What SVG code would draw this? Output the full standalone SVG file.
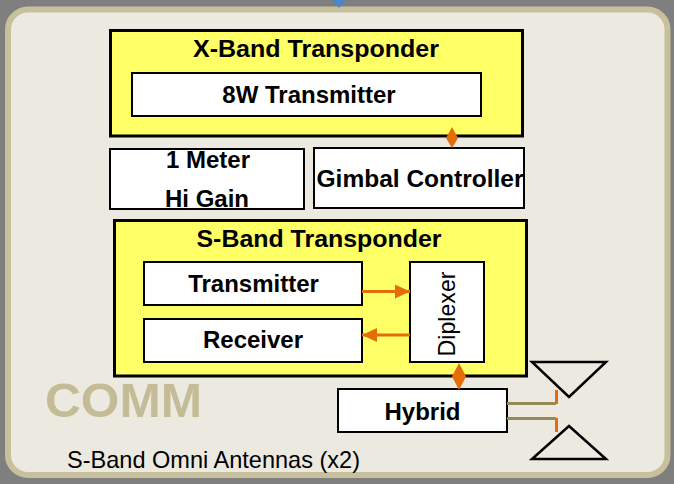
<svg xmlns="http://www.w3.org/2000/svg" width="674" height="484" viewBox="0 0 674 484">
<defs>
<style>
.box{fill:#ffffff;stroke:#000000;stroke-width:2}
.ybox{fill:#ffff66;stroke:#000000;stroke-width:3}
.t{font-family:"Liberation Sans",Arial,sans-serif;font-size:24px;font-weight:bold;fill:#000000;text-anchor:middle}
.r{font-family:"Liberation Sans",Arial,sans-serif;font-size:24px;fill:#000000}
.ol{stroke:#e46c0a;stroke-width:3;fill:none}
.or{fill:#e46c0a;stroke:none}
.feed{stroke:#948a54;stroke-width:3;fill:none}
.ant{fill:none;stroke:#000000;stroke-width:2.5;stroke-linejoin:miter}
</style>
<marker id="ah" viewBox="0 0 15 14" refX="15" refY="7" markerWidth="15" markerHeight="14" markerUnits="userSpaceOnUse" orient="auto">
<path d="M0,0 L15,7 L0,14 Z" fill="#e46c0a"/>
</marker>
</defs>
<rect x="0" y="0" width="674" height="484" fill="#7f7f7f"/>
<g id="panel">
<rect x="8" y="9.5" width="659.5" height="465.5" rx="20" ry="20" fill="#eceae0" stroke="#c8c09c" stroke-width="6"/>
<polygon points="332.5,0 345.5,0 339,8" fill="#4a86c8"/>
<text x="45" y="417" font-family="'Liberation Sans',Arial,sans-serif" font-size="48" font-weight="bold" fill="#c4bc96" textLength="157" lengthAdjust="spacingAndGlyphs">COMM</text>
<text class="r" x="67" y="468" textLength="293" lengthAdjust="spacingAndGlyphs">S-Band Omni Antennas (x2)</text>
</g>
<g id="xband">
<rect class="ybox" x="110.5" y="30.5" width="412" height="105.5"/>
<text class="t" x="316" y="56.5" textLength="246" lengthAdjust="spacingAndGlyphs">X-Band Transponder</text>
</g>
<g id="tx8w">
<rect class="box" x="132" y="73" width="349" height="43"/>
<text class="t" x="309" y="103">8W Transmitter</text>
</g>
<g id="higain">
<rect class="box" x="110" y="149" width="194" height="60"/>
<text class="t" x="208" y="168">1 Meter</text>
<text class="t" x="207" y="207">Hi Gain</text>
</g>
<g id="gimbal">
<rect class="box" x="314" y="148" width="210" height="60"/>
<text class="t" x="420" y="187" textLength="207" lengthAdjust="spacingAndGlyphs">Gimbal Controller</text>
</g>
<g id="sband">
<rect class="ybox" x="114.5" y="220.5" width="412" height="155.5"/>
<text class="t" x="319" y="246.5" textLength="245" lengthAdjust="spacingAndGlyphs">S-Band Transponder</text>
</g>
<g id="transmitter">
<rect class="box" x="144" y="262" width="218" height="43"/>
<text class="t" x="253.5" y="291.5">Transmitter</text>
</g>
<g id="receiver">
<rect class="box" x="144" y="319" width="218" height="43"/>
<text class="t" x="253" y="348">Receiver</text>
</g>
<g id="diplexer">
<rect class="box" x="410" y="262" width="74" height="100"/>
<text class="r" x="0" y="0" text-anchor="middle" font-size="27" transform="translate(455,314) rotate(-90)" textLength="85" lengthAdjust="spacingAndGlyphs">Diplexer</text>
</g>
<g id="hybrid">
<rect class="box" x="338" y="389" width="169" height="43"/>
<text class="t" x="422.5" y="420">Hybrid</text>
</g>
<g id="antennas">
<polygon class="ant" points="532,362 606,362 569,397"/>
<polygon class="ant" points="569,426 532,459 606,459"/>
</g>
<g id="connectors">
<line class="ol" x1="362" y1="291.5" x2="410" y2="291.5" marker-end="url(#ah)"/>
<line class="ol" x1="410" y1="335" x2="362" y2="335" marker-end="url(#ah)"/>
<polygon class="or" points="452,127 458,138 452,148 446,138"/>
<polygon class="or" points="459,363 466,376.5 459,390 452,376.5"/>
<polyline class="feed" points="507,403.5 556,403.5"/>
<polyline class="feed" points="507,418.5 556,418.5"/>
<line class="ol" x1="556.5" y1="390" x2="556.5" y2="404"/>
<line class="ol" x1="556.5" y1="418" x2="556.5" y2="432"/>
</g>
</svg>
